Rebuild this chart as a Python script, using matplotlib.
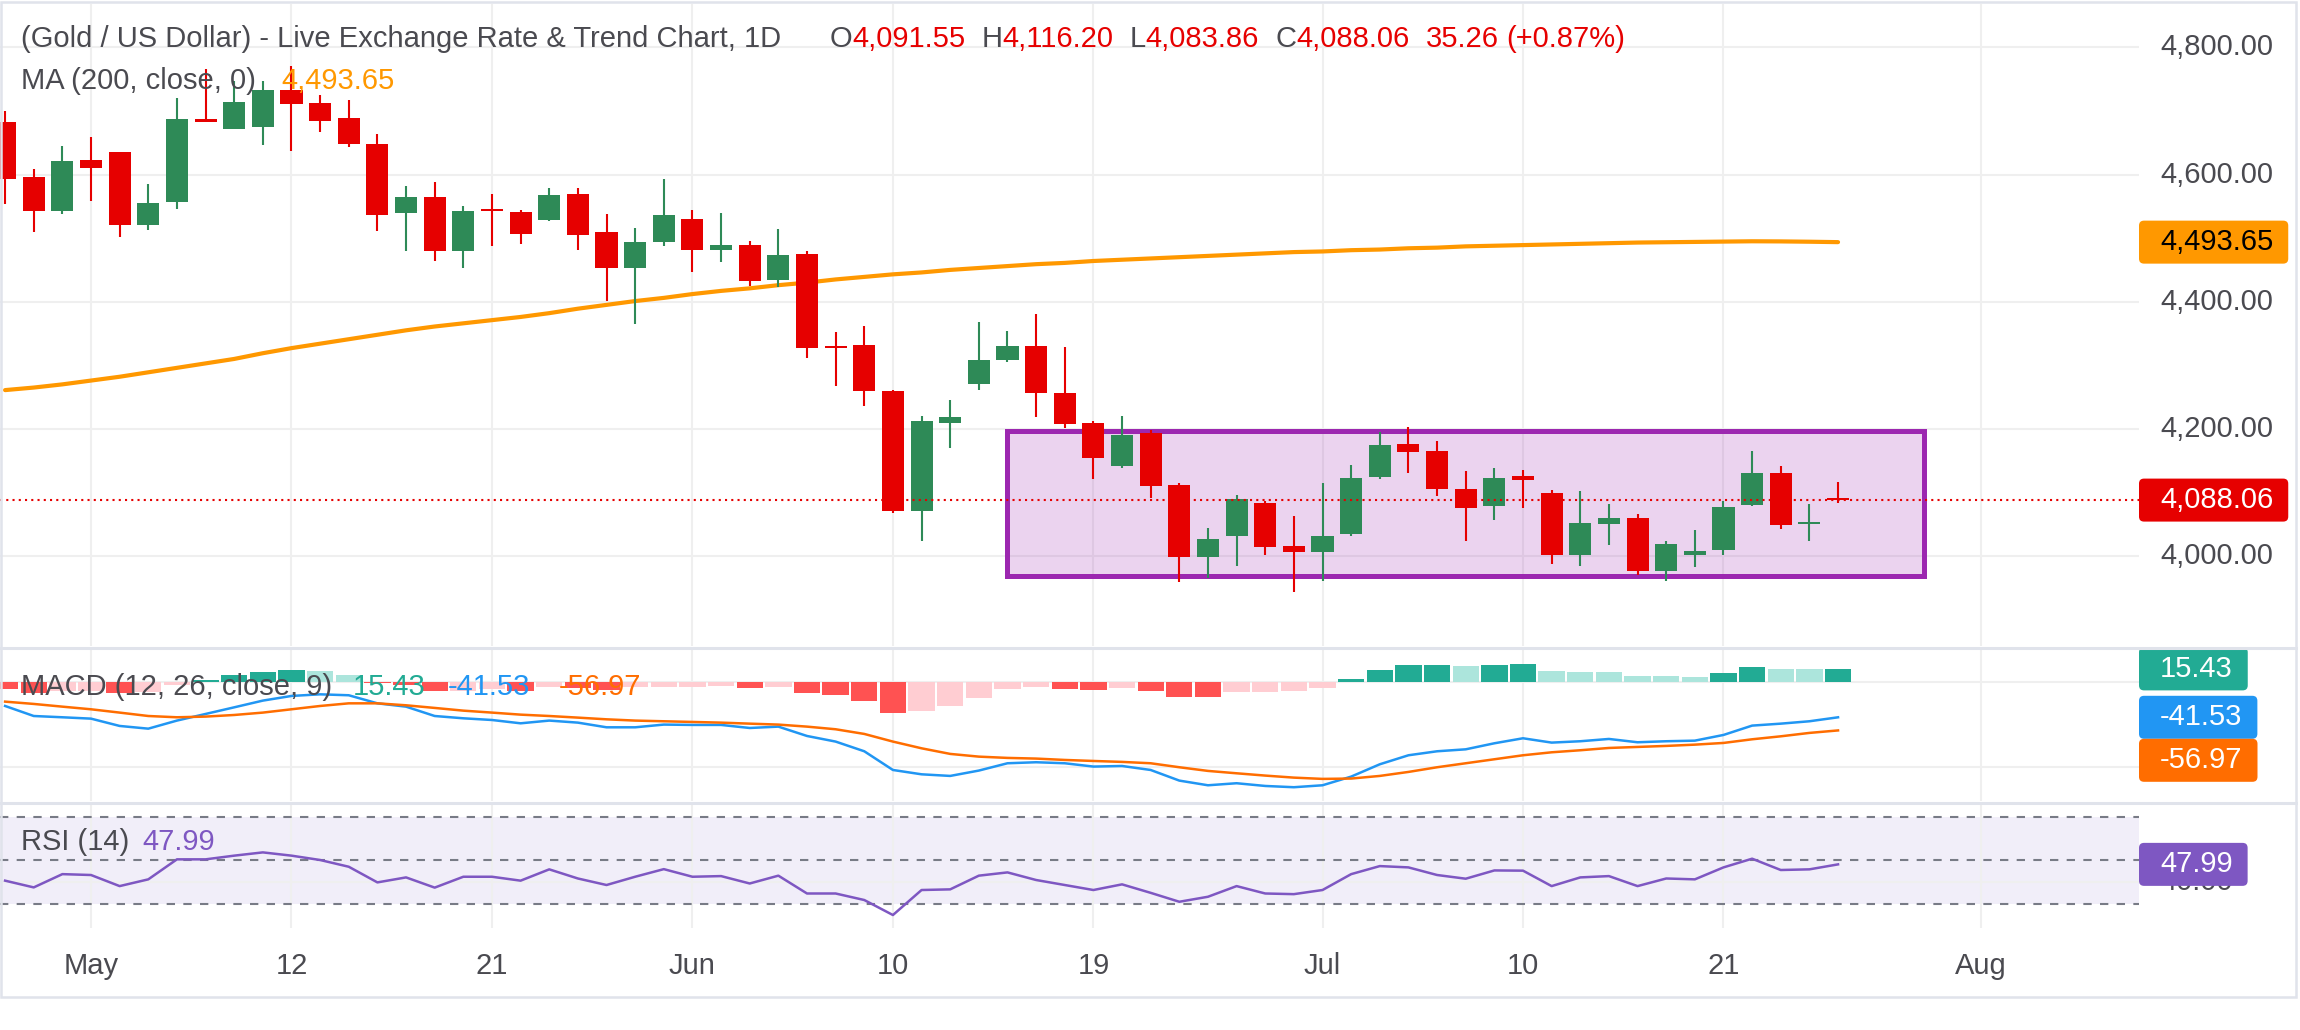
import numpy as np
import pandas as pd
import matplotlib
matplotlib.use("Agg")
import matplotlib.pyplot as plt
from matplotlib.patches import Rectangle, FancyBboxPatch
from matplotlib.lines import Line2D
from matplotlib.transforms import IdentityTransform

plt.rcParams["font.family"] = ["Liberation Sans", "DejaVu Sans"]

W, H = 2300, 1030

# daily bars, 2026-04-28 .. 2026-07-27
dates = pd.bdate_range("2026-04-28", "2026-07-27")

opens = [4683, 4596, 4543, 4623, 4635, 4521, 4557, 4688, 4672, 4674,
         4733, 4712, 4689, 4648, 4539, 4565, 4480, 4546, 4541, 4528,
         4569, 4510, 4453, 4494, 4530, 4481, 4489, 4434, 4475, 4330,
         4332, 4260, 4071, 4209, 4271, 4308, 4330, 4257, 4209, 4141,
         4194, 4112, 3999, 4031, 4084, 4016, 4007, 4034, 4125, 4176,
         4165, 4106, 4078, 4126, 4099, 4001, 4051, 4060, 3976, 4002,
         4009, 4081, 4131, 4050.2, 4091.55]
highs = [4700, 4609, 4645, 4659, 4636, 4585, 4720, 4766, 4747, 4747,
         4770, 4725, 4717, 4664, 4582, 4588, 4550, 4569, 4544, 4579,
         4579, 4538, 4516, 4593, 4544, 4540, 4496, 4514, 4480, 4352,
         4362, 4261, 4220, 4246, 4368, 4354, 4381, 4329, 4213, 4220,
         4198, 4115, 4044, 4096, 4087, 4063, 4115, 4143, 4195, 4203,
         4181, 4134, 4139, 4135, 4104, 4102, 4082, 4066, 4024, 4041,
         4087, 4165, 4142, 4082, 4116.20]
lows = [4554, 4510, 4538, 4558, 4501, 4513, 4545, 4682, 4671, 4646,
        4637, 4667, 4643, 4511, 4480, 4464, 4453, 4488, 4491, 4527,
        4481, 4401, 4365, 4488, 4447, 4462, 4425, 4423, 4312, 4268,
        4236, 4068, 4024, 4170, 4261, 4305, 4219, 4202, 4122, 4138,
        4092, 3960, 3965, 3984, 4001, 3943, 3961, 4032, 4122, 4130,
        4094, 4023, 4056, 4075, 3988, 3985, 4018, 3971, 3961, 3983,
        4001, 4078, 4042, 4023, 4083.86]
closes = [4593, 4542, 4621, 4611, 4520, 4555, 4688, 4683, 4714, 4733,
          4711, 4684, 4648, 4537, 4565, 4480, 4543, 4543, 4507, 4568,
          4505, 4453, 4494, 4536, 4481, 4489, 4433, 4474, 4327, 4328,
          4259, 4071, 4213, 4219, 4308, 4330, 4256, 4208, 4155, 4190,
          4111, 3999, 4027, 4090, 4015, 4007, 4032, 4123, 4175, 4164,
          4105, 4075, 4123, 4119, 4001, 4052, 4060, 3976, 4019, 4008,
          4077, 4131, 4049, 4052.80, 4088.06]

ma200 = [4261, 4265, 4270, 4276, 4282, 4289, 4296, 4303, 4310, 4319,
         4327, 4334, 4341, 4348, 4355, 4361, 4366, 4371, 4376, 4382,
         4389, 4395, 4401, 4406, 4412, 4417, 4421, 4426, 4430, 4435,
         4439, 4443, 4446, 4450, 4453, 4456, 4459, 4461, 4464, 4466,
         4468, 4470, 4472, 4474, 4476, 4478, 4479, 4481, 4482, 4484,
         4485, 4487, 4488, 4489, 4490, 4491, 4492, 4493, 4493.5, 4494,
         4494.5, 4495, 4494.8, 4494.3, 4493.65]

macd_line = [-28.2, -40, -41.5, -43.1, -51.7, -54.9, -45.4, -37.6, -29.8, -21.9,
             -16.4, -14.5, -15.6, -25.1, -29, -40, -42.7, -44.7, -48.6, -45.4,
             -47.8, -53.3, -53.3, -50.1, -50.5, -50.5, -54.1, -52.5, -63.5, -70.1,
             -81.5, -103.5, -108.6, -110.5, -104.2, -95.6, -94.4, -95.6, -99.5, -98.8,
             -103.5, -116, -121.5, -119.1, -122.3, -123.8, -121.5, -111.3, -96.8, -86.2,
             -81.5, -79.2, -72.1, -66.2, -71.3, -69.7, -67, -70.9, -69.7, -69,
             -62.3, -51.3, -49, -46.2, -41.53]
signal_line = [-23.1, -25.8, -29, -32.1, -36, -40, -41.5, -40.7, -38.8, -36,
               -32.1, -28.2, -25.1, -25.1, -27.4, -30.5, -33.7, -36, -38.4, -40,
               -41.9, -43.9, -45.4, -46.2, -47, -47.8, -49, -50.1, -52.5, -55.6,
               -61.1, -70.1, -78, -84.6, -87.8, -89.3, -90.1, -91.7, -92.9, -94,
               -95.6, -100.3, -104.6, -107.4, -110.1, -112.5, -114, -113.6, -110.5, -105.8,
               -100.3, -95.6, -90.9, -86.2, -82.7, -80.3, -77.6, -76.4, -75.2, -73.7,
               -71.7, -67.4, -63.9, -59.9, -56.97]
macd_hist = [-7.8, -13, -11, -10, -13, -12, -4, 2, 7.8, 11.8,
             14.5, 12.9, 8.6, -1, -4, -11, -10, -8, -11, -6,
             -6.5, -9, -6, -5.6, -5.4, -5.2, -7.6, -5.6, -12.9, -15.7,
             -22.4, -36.1, -34.1, -28, -18.4, -7.8, -5.9, -8.6, -9, -6.7,
             -10.6, -17.6, -18, -11.8, -11.6, -10.6, -7, 3.1, 13.7, 20,
             20.2, 18.8, 20, 21.2, 12.9, 11.8, 11.6, 7.1, 7.0, 5.9,
             10.6, 17.6, 15.3, 15.2, 15.43]

rsi = [40.5, 37.4, 43.5, 43.1, 38, 41.1, 50.3, 50.3, 52, 53.5,
       52, 50, 46.9, 39.7, 42, 37.3, 42.3, 42.3, 40.5, 45.7,
       41.5, 38.5, 42.3, 45.8, 42.3, 42.6, 39.2, 42.8, 34.6, 34.6,
       31.6, 24.7, 36.2, 36.5, 42.8, 44.3, 40.8, 38.5, 36.2, 38.8,
       34.9, 30.8, 33.1, 38, 34.6, 34.3, 36.2, 43.5, 47.2, 46.6,
       43.1, 41.4, 45.2, 45.1, 38, 42, 42.6, 38, 41.5, 41.1,
       46.6, 50.6, 45.4, 45.7, 47.99]

price_ticks = [4000, 4200, 4400, 4600, 4800]
macd_ticks = [0, -100]
rsi_ticks = [40]
rsi_bands = [70, 50, 30]

tick_dates = ["2026-05-01", "2026-05-12", "2026-05-21", "2026-06-01", "2026-06-10",
              "2026-06-19", "2026-07-01", "2026-07-10", "2026-07-21", "2026-08-03"]
tick_labels = ["May", "12", "21", "Jun", "10", "19", "Jul", "10", "21", "Aug"]

# consolidation box
box_start, box_end = "2026-06-16", "2026-07-30"
box_low, box_high = 3968, 4196

# colours
GREEN = "#2e8a57"
RED = "#e60000"
ORANGE = "#ff9800"
TXT = "#4a4a50"
GRID = "#efefef"
FRAME = "#e0e3eb"

# ---------------------------------------------------------------
all_days = pd.bdate_range("2026-04-28", "2026-08-31")
x = np.arange(len(dates))
tick_pos = [all_days.get_loc(pd.Timestamp(d)) for d in tick_dates]
bx0 = all_days.get_loc(pd.Timestamp(box_start))
bx1 = all_days.get_loc(pd.Timestamp(box_end))

o = np.array(opens)
h = np.array(highs)
l = np.array(lows)
c = np.array(closes)
hist = np.array(macd_hist)

# pixel layout of the panes
BAR_PX = 28.64
X0_PX = 5.08
PLOT_R = 2139
xlim = ((0 - X0_PX) / BAR_PX, (PLOT_R - X0_PX) / BAR_PX)


def px_rect(x0, y0, x1, y1):
    return [x0 / W, 1 - y1 / H, (x1 - x0) / W, (y1 - y0) / H]


fig = plt.figure(figsize=(W / 100, H / 100), dpi=100, facecolor="white")
rend = fig.canvas.get_renderer()

ax = fig.add_axes(px_rect(0, 4, PLOT_R, 646))
axm = fig.add_axes(px_rect(0, 649, PLOT_R, 801))
axr = fig.add_axes(px_rect(0, 804, PLOT_R, 928))

# value <-> pixel scales
p_ref_y, p_scale = 47.3, 0.636      # y of 4800, px per dollar
ax.set_ylim(4800 - (646 - p_ref_y) / p_scale, 4800 + (p_ref_y - 4) / p_scale)
m_zero_y, m_scale = 682, 0.85
axm.set_ylim((m_zero_y - 801) / m_scale, (m_zero_y - 649) / m_scale)
r_mid_y, r_scale = 860, 2.175
axr.set_ylim(50 - (928 - r_mid_y) / r_scale, 50 + (r_mid_y - 804) / r_scale)

for a in (ax, axm, axr):
    a.set_xlim(*xlim)
    a.set_facecolor("white")
    for s in a.spines.values():
        s.set_visible(False)
    a.set_xticks(tick_pos)
    a.tick_params(length=0, labelbottom=False, labelleft=False)
    a.grid(True, color=GRID, lw=1.5, zorder=0)
    a.set_axisbelow(True)

ax.set_yticks(price_ticks)
axm.set_yticks(macd_ticks)
axr.set_yticks(rsi_ticks)

# --- price pane ---
ax.add_patch(Rectangle((bx0, box_low), bx1 - bx0, box_high - box_low,
                       facecolor=(156 / 255, 39 / 255, 176 / 255, 0.2),
                       edgecolor="#9c27b0", lw=3.6, zorder=1))
ax.plot(x, ma200, color=ORANGE, lw=3.0, zorder=2, solid_capstyle="round")

cols = np.where(c >= o, GREEN, RED)
ax.vlines(x, l, h, colors=cols, lw=1.5, zorder=3)
body = np.maximum(np.abs(c - o), 3)
ax.bar(x, body, bottom=(o + c) / 2 - body / 2, width=0.77, color=cols,
       linewidth=0, zorder=4)

ax.axhline(c[-1], color=RED, lw=1.5, ls=(0, (1, 2)), zorder=5)

# --- MACD pane ---
prev = np.concatenate([[0], hist[:-1]])
hcols = np.where(hist >= 0,
                 np.where(hist >= prev, "#22ab94", "#ace5dc"),
                 np.where(hist < prev, "#ff5252", "#ffcdd2"))
axm.bar(x, hist, width=0.92, color=hcols, linewidth=0, zorder=2)
axm.plot(x, macd_line, color="#2196f3", lw=1.8, zorder=3)
axm.plot(x, signal_line, color="#ff6d00", lw=1.8, zorder=3)

# --- RSI pane ---
axr.axhspan(rsi_bands[-1], rsi_bands[0], color="#f1eef9", zorder=0.5, lw=0)
for b in rsi_bands:
    axr.axhline(b, color="#787b86", lw=1.5, ls=(0, (4, 4)), zorder=1)
axr.plot(x, rsi, color="#7e57c2", lw=1.8, zorder=3)


# --- text helpers (pixel coords from top-left) ---
def ftext(px, py, s, **kw):
    kw.setdefault("fontsize", 21)
    kw.setdefault("va", "center")
    return fig.text(px / W, 1 - py / H, s, **kw)


def ypix(a, v):
    return H - a.transData.transform((0, v))[1]


# header, laid out left to right
last = len(c) - 1
chg = c[last] - c[last - 1]
pct = chg / c[last - 1] * 100
hdr = [("(Gold / US Dollar) - Live Exchange Rate & Trend Chart, 1D", TXT, 21, 0),
       ("O", TXT, 830, 12), (f"{o[last]:,.2f}", RED, 0, 0),
       ("H", TXT, 975, 16), (f"{h[last]:,.2f}", RED, 0, 0),
       ("L", TXT, 1128, 16), (f"{l[last]:,.2f}", RED, 0, 0),
       ("C", TXT, 1273, 16), (f"{c[last]:,.2f}", RED, 0, 0),
       (f"{chg:.2f}", RED, 1418, 16), (f"({pct:+.2f}%)", RED, 1500, 8)]
cur = 0
for s, col, px, gap in hdr:
    px = max(px, cur + gap)
    t = ftext(px, 39, s, color=col)
    cur = t.get_window_extent(rend).x1

ftext(21, 81, "MA (200, close, 0)", color=TXT)
ftext(281, 81, f"{ma200[-1]:,.2f}", color=ORANGE)

ftext(21, 687, "MACD (12, 26, close, 9)", color=TXT, zorder=5)
ftext(353, 687, f"{macd_hist[-1]:.2f}", color="#22ab94", zorder=5)
ftext(448, 687, f"{macd_line[-1]:.2f}", color="#2196f3", zorder=5)
ftext(559, 687, f"{signal_line[-1]:.2f}", color="#ff6d00", zorder=5)

ftext(21, 842, "RSI (14)", color=TXT)
ftext(142, 842, f"{rsi[-1]:.2f}", color="#7e57c2")

# right scale labels (the MACD zero label sits fully under its badge)
LAB_X = 2160
for p in price_ticks:
    ftext(LAB_X, ypix(ax, p), f"{p:,.2f}", color=TXT, zorder=1)
for v in macd_ticks[1:]:
    ftext(LAB_X, ypix(axm, v), f"{v:.2f}", color=TXT, zorder=1)
for v in rsi_ticks:
    ftext(LAB_X, ypix(axr, v), f"{v:.2f}", color=TXT, zorder=1)

# time labels
for pos, lab in zip(tick_pos, tick_labels):
    px = X0_PX + BAR_PX * pos
    ftext(px, 966, lab, color=TXT, ha="center")

# badges on the scale
BADGE_H = 43
badges = []
badges.append((f"{ma200[-1]:,.2f}", ypix(ax, ma200[-1]), ORANGE, "black"))
badges.append((f"{c[-1]:,.2f}", ypix(ax, c[-1]), RED, "white"))
yb = ypix(axm, macd_hist[-1])
badges.append((f"{macd_hist[-1]:.2f}", yb, "#22ab94", "white"))
yb = max(ypix(axm, macd_line[-1]), yb + BADGE_H)
badges.append((f"{macd_line[-1]:.2f}", yb, "#2196f3", "white"))
yb = max(ypix(axm, signal_line[-1]), yb + BADGE_H)
badges.append((f"{signal_line[-1]:.2f}", yb, "#ff6d00", "white"))
badges.append((f"{rsi[-1]:.2f}", ypix(axr, rsi[-1]), "#7e57c2", "white"))

for s, yc, fc, tc in badges:
    t = ftext(LAB_X, yc, s, color=tc, zorder=4)
    x1 = t.get_window_extent(rend).x1 + 15
    patch = FancyBboxPatch((PLOT_R, H - yc - BADGE_H / 2), x1 - PLOT_R, BADGE_H,
                           boxstyle="round,pad=0,rounding_size=5",
                           facecolor=fc, edgecolor="none",
                           transform=IdentityTransform(), zorder=3)
    fig.add_artist(patch)

# pane separators and frame
for yy in (647.5, 802.5):
    fig.add_artist(Line2D([0, 2296 / W], [1 - yy / H] * 2, color=FRAME, lw=2.2,
                          transform=fig.transFigure, zorder=6))
fig.add_artist(Rectangle((1 / W, 1 - 997 / H), 2295 / W, 995 / H, fill=False,
                         edgecolor=FRAME, lw=1.8, transform=fig.transFigure, zorder=6))

fig.savefig("out.png", dpi=100, facecolor="white")
